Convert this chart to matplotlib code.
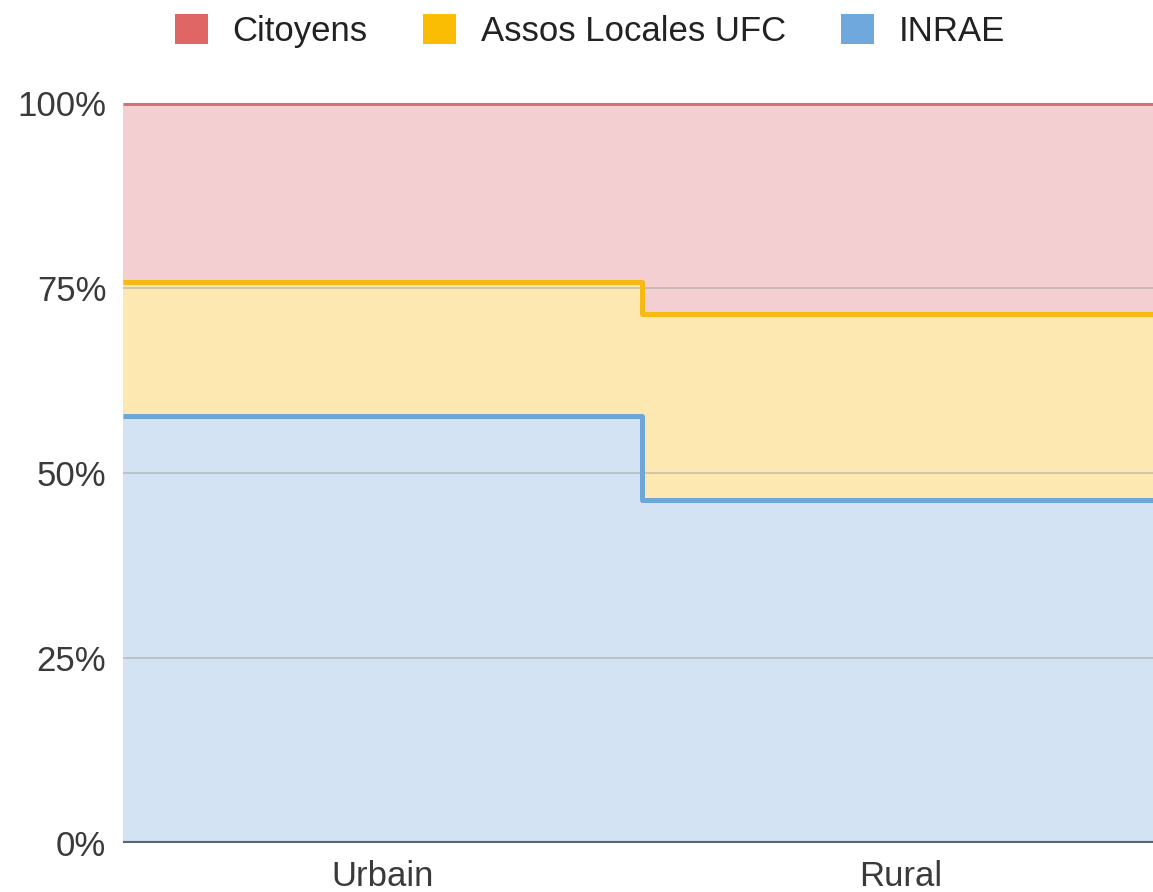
import numpy as np
import matplotlib
matplotlib.use("Agg")
import matplotlib.pyplot as plt
from matplotlib.patches import Patch

categories = ["Urbain", "Rural"]
series_names = ["Citoyens", "Assos Locales UFC", "INRAE"]
inrae = [57.7, 46.4]
assos = [18.1, 25.1]
citoyens = [24.2, 28.5]
y_ticks = [0, 25, 50, 75, 100]
y_tick_labels = ["0%", "25%", "50%", "75%", "100%"]

line_colors = {"Citoyens": "#dc6f6f", "Assos Locales UFC": "#f7b914", "INRAE": "#6fa6da"}
fill_colors = {"Citoyens": "#f4cfd1", "Assos Locales UFC": "#fde8b2", "INRAE": "#d3e3f3"}
legend_colors = {"Citoyens": "#e06666", "Assos Locales UFC": "#fbbc04", "INRAE": "#6fa8dc"}

plt.rcParams['font.family'] = ['Liberation Sans', 'DejaVu Sans']

fig = plt.figure(figsize=(11.53, 8.92), dpi=100)
ax = fig.add_axes([123/1153, 1-843/892, (1160-123)/1153, (843-103)/892])

n = len(categories)
edges = np.arange(n + 1) - 0.5
def ext(v):
    v = np.asarray(v, dtype=float)
    return np.append(v, v[-1])

b0 = np.zeros(n)
b1 = np.array(inrae, dtype=float)
b2 = b1 + np.array(assos, dtype=float)
b3 = b2 + np.array(citoyens, dtype=float)

ax.fill_between(edges, ext(b0), ext(b1), step='post', color=fill_colors["INRAE"], lw=0, zorder=1)
ax.fill_between(edges, ext(b1), ext(b2), step='post', color=fill_colors["Assos Locales UFC"], lw=0, zorder=1)
ax.fill_between(edges, ext(b2), ext(b3), step='post', color=fill_colors["Citoyens"], lw=0, zorder=1)

for yv in [25, 50, 75]:
    ax.axhline(yv, color="#9e9e9e", lw=1.2, alpha=0.55, zorder=2)

kw = dict(drawstyle='steps-post', lw=3.6, solid_joinstyle='round', solid_capstyle='butt', zorder=4)
ax.plot(edges, ext(b1), color=line_colors["INRAE"], **kw)
ax.plot(edges, ext(b2), color=line_colors["Assos Locales UFC"], **kw)
ax.plot(edges, ext(b3), color=line_colors["Citoyens"], **kw)

ax.axhline(0, color="#5a6572", lw=3.0, zorder=5)

ax.set_xlim(edges[0], edges[-1])
ax.set_ylim(0, 100)
ax.set_yticks(y_ticks)
ax.set_yticklabels(y_tick_labels)
ax.set_xticks(np.arange(n))
ax.set_xticklabels(categories)
ax.tick_params(axis='both', length=0, labelsize=25, colors="#3a3a3a")
ax.tick_params(axis='y', pad=12)
ax.tick_params(axis='x', pad=12)
for s in ax.spines.values():
    s.set_visible(False)

handles = [Patch(facecolor=legend_colors[nm], edgecolor='none') for nm in series_names]
fig.legend(handles, series_names, loc='center', bbox_to_anchor=(590/1153, 1-31/892), ncol=3,
           frameon=False, fontsize=25, handlelength=0.95, handleheight=0.95,
           handletextpad=0.7, columnspacing=1.6, labelcolor="#222222")

fig.savefig("out.png", dpi=100)
